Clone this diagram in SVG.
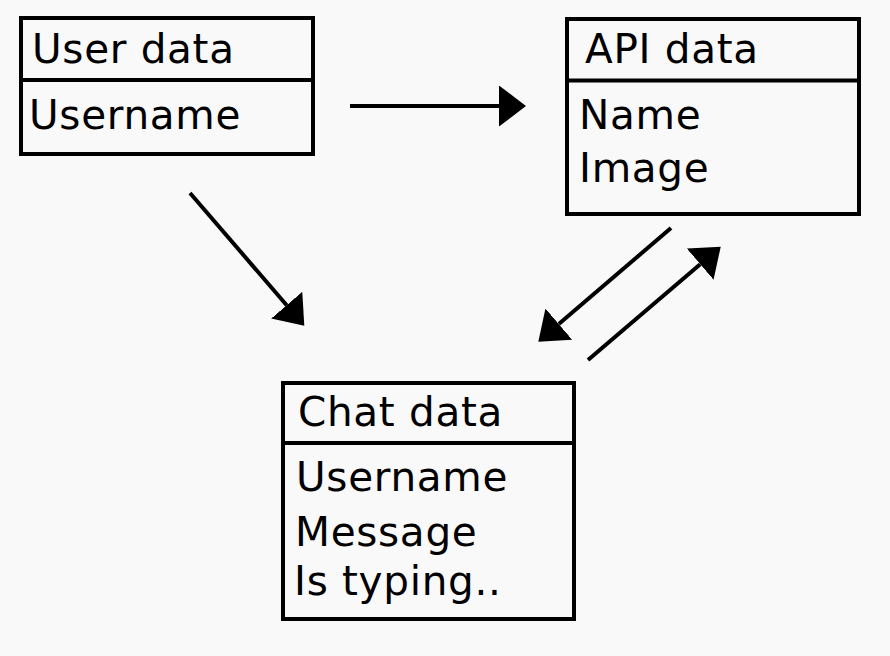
<svg xmlns="http://www.w3.org/2000/svg" width="890" height="656" viewBox="0 0 890 656">
<style>
.box{fill:none;stroke:#000;stroke-width:4}
.div{stroke:#000;stroke-width:4}
.t{font-family:"DejaVu Sans",Verdana,sans-serif;font-size:40.5px;letter-spacing:0.7px;fill:#000}
.c{stroke:#000;stroke-width:4;fill:none;marker-end:url(#ah)}
</style>
<defs>
<marker id="ah" markerUnits="userSpaceOnUse" markerWidth="28" markerHeight="42" refX="0" refY="20.5" orient="auto" viewBox="0 0 28 42">
<path d="M0,0 L27,20.5 L0,41 Z" fill="#000"/>
</marker>
</defs>
<rect width="890" height="656" fill="#f9f9f9"/>
<g id="user-data">
<rect class="box" x="21" y="18" width="292" height="136"/>
<line class="div" x1="21" y1="80" x2="313" y2="80"/>
<text class="t" x="32" y="63">User data</text>
<text class="t" x="29" y="129">Username</text>
</g>
<g id="api-data">
<rect class="box" x="567" y="19" width="292" height="195"/>
<line class="div" x1="567" y1="80.5" x2="859" y2="80.5"/>
<text class="t" x="585" y="63">API data</text>
<text class="t" x="579" y="128.5">Name</text>
<text class="t" x="579" y="182">Image</text>
</g>
<g id="chat-data">
<rect class="box" x="283" y="383" width="291" height="236"/>
<line class="div" x1="283" y1="443" x2="574" y2="443"/>
<text class="t" x="298" y="426">Chat data</text>
<text class="t" x="296" y="491">Username</text>
<text class="t" x="295" y="546">Message</text>
<text class="t" x="294" y="595">Is typing..</text>
</g>
<g id="connectors">
<line class="c" x1="350" y1="106" x2="499" y2="106"/>
<line class="c" x1="190" y1="193" x2="286.7" y2="305.2"/>
<line class="c" x1="671" y1="228" x2="558.8" y2="324.1"/>
<line class="c" x1="588" y1="360" x2="700.2" y2="264.2"/>
</g>
</svg>
